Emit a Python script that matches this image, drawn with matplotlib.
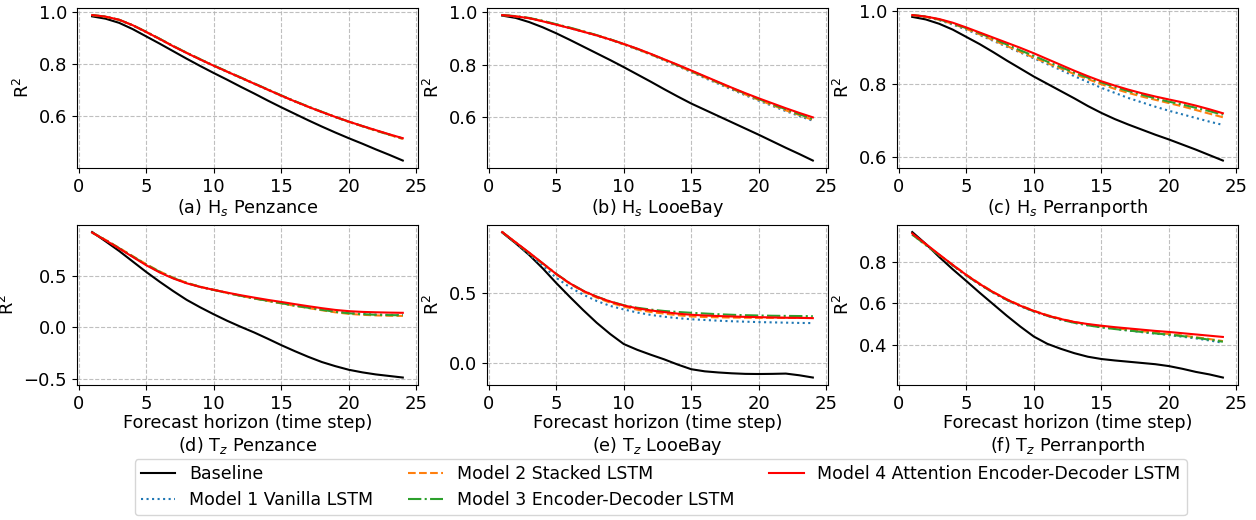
import numpy as np
import matplotlib
matplotlib.use("Agg")
import matplotlib.pyplot as plt

steps = np.arange(1, 25)

# (a) Hs Penzance
base_a = [0.985, 0.976, 0.960, 0.936, 0.908, 0.880, 0.851, 0.822, 0.794, 0.767, 0.741, 0.714,
          0.688, 0.661, 0.635, 0.610, 0.585, 0.561, 0.538, 0.516, 0.495, 0.473, 0.452, 0.430]
m1_a = [0.990, 0.983, 0.971, 0.950, 0.924, 0.897, 0.870, 0.844, 0.819, 0.794, 0.771, 0.748,
        0.725, 0.702, 0.679, 0.657, 0.636, 0.616, 0.597, 0.579, 0.562, 0.546, 0.530, 0.514]
m2_a = [0.990, 0.983, 0.971, 0.951, 0.925, 0.898, 0.871, 0.845, 0.820, 0.795, 0.772, 0.749,
        0.726, 0.703, 0.680, 0.658, 0.637, 0.617, 0.598, 0.579, 0.562, 0.545, 0.529, 0.513]
m3_a = [0.990, 0.984, 0.972, 0.951, 0.926, 0.899, 0.871, 0.845, 0.820, 0.796, 0.773, 0.750,
        0.727, 0.704, 0.681, 0.659, 0.638, 0.618, 0.598, 0.580, 0.563, 0.546, 0.530, 0.515]
m4_a = [0.990, 0.984, 0.972, 0.951, 0.925, 0.898, 0.870, 0.844, 0.819, 0.795, 0.772, 0.749,
        0.726, 0.703, 0.680, 0.658, 0.637, 0.617, 0.598, 0.580, 0.563, 0.547, 0.531, 0.516]

# (b) Hs LooeBay
base_b = [0.988, 0.979, 0.963, 0.943, 0.920, 0.895, 0.869, 0.843, 0.817, 0.790, 0.762, 0.734,
          0.705, 0.677, 0.650, 0.626, 0.602, 0.578, 0.554, 0.530, 0.505, 0.480, 0.456, 0.431]
m1_b = [0.990, 0.985, 0.978, 0.967, 0.954, 0.940, 0.926, 0.911, 0.895, 0.877, 0.858, 0.838,
        0.816, 0.794, 0.771, 0.748, 0.726, 0.704, 0.682, 0.661, 0.641, 0.621, 0.602, 0.584]
m2_b = [0.990, 0.985, 0.978, 0.967, 0.954, 0.941, 0.927, 0.912, 0.896, 0.878, 0.859, 0.839,
        0.818, 0.796, 0.773, 0.751, 0.729, 0.707, 0.685, 0.664, 0.644, 0.624, 0.606, 0.587]
m3_b = [0.990, 0.986, 0.979, 0.968, 0.955, 0.942, 0.928, 0.913, 0.897, 0.879, 0.860, 0.840,
        0.819, 0.797, 0.775, 0.753, 0.731, 0.709, 0.688, 0.667, 0.647, 0.628, 0.609, 0.590]
m4_b = [0.990, 0.985, 0.978, 0.966, 0.953, 0.940, 0.926, 0.912, 0.896, 0.879, 0.861, 0.841,
        0.820, 0.799, 0.777, 0.755, 0.733, 0.711, 0.690, 0.670, 0.651, 0.632, 0.614, 0.597]

# (c) Hs Perranporth
base_c = [0.985, 0.978, 0.966, 0.950, 0.930, 0.910, 0.888, 0.865, 0.843, 0.821, 0.801, 0.781,
          0.761, 0.740, 0.721, 0.704, 0.689, 0.675, 0.661, 0.648, 0.634, 0.620, 0.605, 0.590]
m1_c = [0.990, 0.985, 0.976, 0.964, 0.950, 0.935, 0.919, 0.903, 0.887, 0.871, 0.855, 0.839,
        0.822, 0.806, 0.790, 0.776, 0.762, 0.750, 0.738, 0.727, 0.717, 0.707, 0.697, 0.688]
m2_c = [0.990, 0.985, 0.977, 0.966, 0.952, 0.937, 0.921, 0.905, 0.889, 0.873, 0.858, 0.843,
        0.828, 0.814, 0.800, 0.787, 0.776, 0.766, 0.757, 0.748, 0.739, 0.729, 0.719, 0.709]
m3_c = [0.990, 0.986, 0.978, 0.967, 0.954, 0.940, 0.925, 0.909, 0.893, 0.878, 0.862, 0.847,
        0.832, 0.818, 0.805, 0.792, 0.781, 0.771, 0.761, 0.752, 0.744, 0.735, 0.726, 0.716]
m4_c = [0.990, 0.986, 0.979, 0.969, 0.956, 0.942, 0.928, 0.914, 0.900, 0.885, 0.869, 0.853,
        0.837, 0.822, 0.808, 0.796, 0.785, 0.775, 0.766, 0.758, 0.750, 0.741, 0.731, 0.720]

# (d) Tz Penzance
base_d = [0.920, 0.830, 0.737, 0.636, 0.535, 0.440, 0.350, 0.265, 0.193, 0.126, 0.063, 0.005,
          -0.050, -0.110, -0.172, -0.230, -0.285, -0.335, -0.375, -0.410, -0.435, -0.455, -0.470, -0.485]
m1_d = [0.915, 0.842, 0.764, 0.684, 0.605, 0.535, 0.476, 0.428, 0.391, 0.361, 0.332, 0.305,
        0.280, 0.257, 0.234, 0.211, 0.190, 0.170, 0.152, 0.138, 0.129, 0.123, 0.120, 0.118]
m2_d = [0.915, 0.844, 0.767, 0.688, 0.610, 0.540, 0.479, 0.430, 0.392, 0.362, 0.332, 0.304,
        0.278, 0.255, 0.231, 0.208, 0.186, 0.165, 0.145, 0.130, 0.121, 0.115, 0.112, 0.110]
m3_d = [0.915, 0.842, 0.764, 0.684, 0.606, 0.536, 0.476, 0.428, 0.390, 0.361, 0.332, 0.304,
        0.279, 0.256, 0.233, 0.210, 0.189, 0.169, 0.150, 0.136, 0.127, 0.121, 0.118, 0.116]
m4_d = [0.915, 0.840, 0.761, 0.680, 0.600, 0.530, 0.472, 0.425, 0.390, 0.362, 0.335, 0.310,
        0.287, 0.265, 0.245, 0.224, 0.204, 0.185, 0.168, 0.156, 0.149, 0.145, 0.142, 0.140]

# (e) Tz LooeBay
base_e = [0.927, 0.850, 0.767, 0.672, 0.568, 0.470, 0.375, 0.285, 0.205, 0.134, 0.093, 0.058,
          0.025, -0.012, -0.045, -0.060, -0.068, -0.074, -0.078, -0.079, -0.078, -0.076, -0.088, -0.104]
m1_e = [0.930, 0.850, 0.772, 0.690, 0.605, 0.538, 0.485, 0.440, 0.405, 0.380, 0.358, 0.341,
        0.328, 0.318, 0.310, 0.305, 0.300, 0.296, 0.293, 0.290, 0.288, 0.286, 0.284, 0.283]
m2_e = [0.930, 0.855, 0.780, 0.705, 0.630, 0.563, 0.508, 0.464, 0.428, 0.400, 0.378, 0.362,
        0.350, 0.339, 0.330, 0.326, 0.324, 0.322, 0.321, 0.320, 0.320, 0.320, 0.320, 0.320]
m3_e = [0.930, 0.855, 0.781, 0.707, 0.633, 0.567, 0.513, 0.471, 0.437, 0.410, 0.392, 0.379,
        0.369, 0.362, 0.356, 0.351, 0.346, 0.342, 0.339, 0.337, 0.335, 0.334, 0.333, 0.332]
m4_e = [0.930, 0.857, 0.784, 0.708, 0.632, 0.566, 0.512, 0.470, 0.436, 0.408, 0.388, 0.373,
        0.361, 0.350, 0.342, 0.337, 0.333, 0.330, 0.327, 0.325, 0.323, 0.321, 0.320, 0.318]

# (f) Tz Perranporth
base_f = [0.942, 0.885, 0.822, 0.763, 0.707, 0.650, 0.595, 0.540, 0.488, 0.440, 0.405, 0.381,
          0.360, 0.343, 0.332, 0.325, 0.319, 0.313, 0.307, 0.298, 0.285, 0.270, 0.258, 0.243]
m1_f = [0.930, 0.880, 0.830, 0.781, 0.733, 0.690, 0.650, 0.615, 0.586, 0.560, 0.539, 0.521,
        0.506, 0.494, 0.485, 0.477, 0.469, 0.461, 0.454, 0.447, 0.439, 0.431, 0.421, 0.410]
m2_f = [0.931, 0.881, 0.832, 0.784, 0.737, 0.694, 0.654, 0.619, 0.590, 0.564, 0.543, 0.525,
        0.510, 0.498, 0.489, 0.481, 0.473, 0.466, 0.459, 0.452, 0.445, 0.437, 0.428, 0.418]
m3_f = [0.930, 0.880, 0.831, 0.782, 0.734, 0.690, 0.651, 0.616, 0.587, 0.561, 0.540, 0.521,
        0.506, 0.494, 0.484, 0.476, 0.469, 0.462, 0.455, 0.449, 0.442, 0.434, 0.425, 0.415]
m4_f = [0.935, 0.885, 0.834, 0.784, 0.736, 0.692, 0.653, 0.618, 0.588, 0.563, 0.541, 0.524,
        0.510, 0.500, 0.492, 0.485, 0.479, 0.473, 0.467, 0.462, 0.456, 0.450, 0.444, 0.438]

captions = ["(a) H$_s$ Penzance", "(b) H$_s$ LooeBay", "(c) H$_s$ Perranporth",
            "(d) T$_z$ Penzance", "(e) T$_z$ LooeBay", "(f) T$_z$ Perranporth"]
panels = [
    (base_a, m1_a, m2_a, m3_a, m4_a),
    (base_b, m1_b, m2_b, m3_b, m4_b),
    (base_c, m1_c, m2_c, m3_c, m4_c),
    (base_d, m1_d, m2_d, m3_d, m4_d),
    (base_e, m1_e, m2_e, m3_e, m4_e),
    (base_f, m1_f, m2_f, m3_f, m4_f),
]
labels = ["Baseline", "Model 1 Vanilla LSTM", "Model 2 Stacked LSTM",
          "Model 3 Encoder-Decoder LSTM", "Model 4 Attention Encoder-Decoder LSTM"]
colors = ["black", "tab:blue", "tab:orange", "tab:green", "red"]
styles = ["-", ":", "--", "-.", "-"]

fig, axes = plt.subplots(2, 3, figsize=(12.56, 5.2), dpi=100)
plt.subplots_adjust(left=0.061, right=0.986, top=0.985, bottom=0.26, wspace=0.2, hspace=0.356)

for i, ax in enumerate(axes.flat):
    for series, lab, c, ls in zip(panels[i], labels, colors, styles):
        ax.plot(steps, series, color=c, linestyle=ls, linewidth=1.5, label=lab)
    ax.grid(True, linestyle="--", color="#b0b0b0", alpha=0.8)
    ax.set_ylabel("R$^2$", fontsize=12.7)
    ax.tick_params(labelsize=13)
    if i < 3:
        ax.set_xlabel(captions[i], fontsize=12.7, labelpad=1)
    else:
        ax.set_xlabel("Forecast horizon (time step)\n" + captions[i], fontsize=12.7, labelpad=1)
    ax.set_xticks([0, 5, 10, 15, 20, 25])

# legend below all panels
handles, labs = axes[0, 0].get_legend_handles_labels()
fig.legend(handles, labs, loc="lower center", bbox_to_anchor=(0.526, 0.0096), ncol=3,
           fontsize=12.5, frameon=True, columnspacing=2.0, borderpad=0.35, labelspacing=0.45,
           borderaxespad=0)

plt.savefig("out.png", dpi=100)
